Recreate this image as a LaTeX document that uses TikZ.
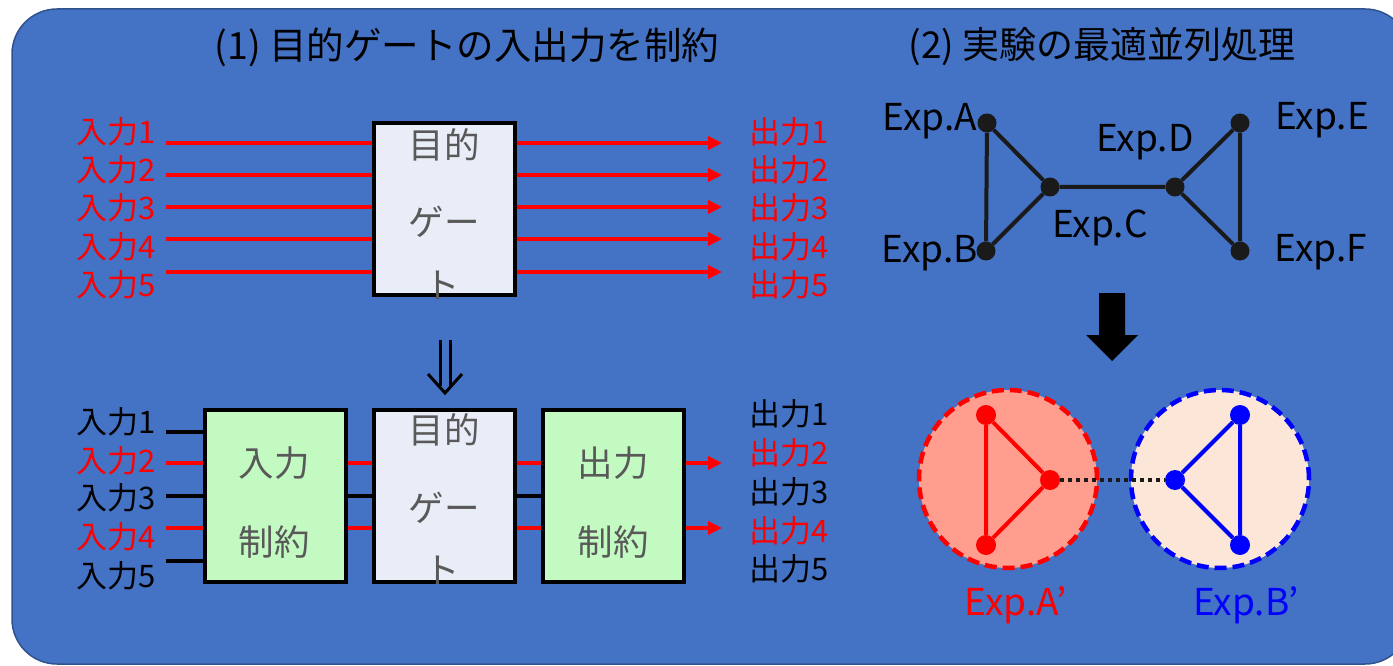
\documentclass[tikz,border=0pt]{standalone}
\usepackage{fontspec}
\setmainfont{Noto Sans CJK JP}
\usetikzlibrary{arrows.meta}
\definecolor{bgblue}{HTML}{4472C4}
\definecolor{bgedge}{HTML}{2F528F}
\definecolor{gatefill}{HTML}{E9EDF7}
\definecolor{greenfill}{HTML}{C2FAC2}
\definecolor{txtgray}{HTML}{595959}
\definecolor{pinkfill}{HTML}{FF9E8E}
\definecolor{peachfill}{HTML}{FBE6D7}
\definecolor{edgeblack}{HTML}{1A1A1A}
\newcommand\setfs[1]{\fontsize{#1}{#1}\selectfont}
\begin{document}
\begin{tikzpicture}[x=1pt,y=-1pt,
  gatebox/.style={draw=black, line width=4pt, fill=gatefill, minimum width=141pt, minimum height=172pt, inner sep=0pt},
  greenbox/.style={gatebox, fill=greenfill},
  boxtext/.style={text=txtgray, font=\setfs{35.5}, inner sep=0pt},
  title/.style={text=black, font=\setfs{37.5}, inner sep=0pt},
  lbl/.style={font=\setfs{31}, inner sep=0pt},
  redlbl/.style={lbl, text=red},
  blklbl/.style={lbl, text=black},
  redwire/.style={red, line width=4pt},
  blkwire/.style={black, line width=4pt},
  redarrow/.style={redwire, -{Triangle[length=14pt,width=13pt]}},
  dot/.style={circle, fill=edgeblack, minimum size=19pt, inner sep=0pt},
  gedge/.style={edgeblack, line width=4pt},
  explbl/.style={font=\setfs{37}, text=black, inner sep=0pt, anchor=base},
  rdot/.style={circle, fill=red, minimum size=20pt, inner sep=0pt},
  bdot/.style={circle, fill=blue, minimum size=20pt, inner sep=0pt},
  group/.style={circle, minimum size=178pt, inner sep=0pt, line width=4.5pt, dash pattern=on 12pt off 6pt},
]
\useasboundingbox (0,0) rectangle (1393,666);
\draw[fill=bgblue, draw=bgedge, line width=1.5pt, rounded corners=45pt] (12,9) rectangle (1410,664);

% titles
\node[title] (t1) at (467,47) {(1) 目的ゲートの入出力を制約};
\node[title, font=\setfs{37}] (t2) at (1102,47) {(2) 実験の最適並列処理};

% ---------- top gate ----------
\node[gatebox] (g1) at (444.5,209) {};
\node[boxtext] (g1a) at (444,145) {目的};
\node[boxtext] (g1b) at (444,222) {ゲー};
\node[boxtext] (g1c) at (442,285) {ト};

\foreach \i/\y/\ly in {1/143/132, 2/175/170, 3/207/208, 4/239/247, 5/272/285} {
  \node[redlbl, anchor=east] (ti\i) at (156,\ly) {入力\i};
  \node[redlbl, anchor=west] (to\i) at (749,\ly) {出力\i};
  \coordinate (tl\i) at (166,\y);
  \coordinate (tr\i) at (722,\y);
  \draw[redwire] (tl\i) -- (tl\i -| g1.west);
  \draw[redarrow] (tl\i -| g1.east) -- (tr\i);
}

% double arrow
\coordinate (da) at (445,340);
\draw[black, line width=3pt] (440,340) -- (440,386) (450,340) -- (450,386);
\draw[black, line width=3pt, line join=miter] (428,374) -- (445,393) -- (462,374);

% ---------- bottom chain ----------
\node[greenbox] (ic) at (275,495.5) {};
\node[gatebox] (g2) at (444.5,495.5) {};
\node[greenbox] (oc) at (613.5,495.5) {};
\node[boxtext] (ica) at (274,463) {入力};
\node[boxtext] (icb) at (274,542) {制約};
\node[boxtext] (g2a) at (444,430) {目的};
\node[boxtext] (g2b) at (444,508) {ゲー};
\node[boxtext] (g2c) at (442,570) {ト};
\node[boxtext] (oca) at (613,463) {出力};
\node[boxtext] (ocb) at (613,542) {制約};

\foreach \i/\y/\ly/\oy/\c in {1/432/422/414/blk, 2/463/461/453/red, 3/496/498/492/blk, 4/528/537/531/red, 5/561/576/569/blk} {
  \node[\c lbl, anchor=east] (bi\i) at (156,\ly) {入力\i};
  \node[\c lbl, anchor=west] (bo\i) at (749,\oy) {出力\i};
  \coordinate (bl\i) at (166,\y);
  \draw[\c wire] (bl\i) -- (bl\i -| ic.west);
}
\foreach \i in {2,4} {
  \draw[redwire] (bl\i -| ic.east) -- (bl\i -| g2.west);
  \draw[redwire] (bl\i -| g2.east) -- (bl\i -| oc.west);
  \coordinate (br\i) at (722,0 |- bl\i);
  \draw[redarrow] (bl\i -| oc.east) -- (br\i);
}
\draw[blkwire] (bl3 -| ic.east) -- (bl3 -| g2.west);
\draw[blkwire] (bl3 -| g2.east) -- (bl3 -| oc.west);

% ---------- graph ----------
\node[dot] (A) at (987,123) {};
\node[dot] (B) at (986,251) {};
\node[dot] (C) at (1050,187) {};
\node[dot] (D) at (1175,187) {};
\node[dot] (E) at (1240,123) {};
\node[dot] (F) at (1240,251) {};
\draw[gedge] (A) -- (B) (A) -- (C) (B) -- (C) (C) -- (D) (D) -- (E) (D) -- (F) (E) -- (F);
\node[explbl] (lA) at (930,131) {Exp.A};
\node[explbl] (lB) at (930,262) {Exp.B};
\node[explbl] (lC) at (1100,237) {Exp.C};
\node[explbl] (lD) at (1145,152) {Exp.D};
\node[explbl] (lE) at (1322,130) {Exp.E};
\node[explbl] (lF) at (1321,261) {Exp.F};

% big arrow
\fill[black] (1099,293) -- (1125,293) -- (1125,335) -- (1138,335) -- (1112,361) -- (1086,335) -- (1099,335) -- cycle;

% groups
\node[group, fill=pinkfill, draw=red] (gA) at (1008,479) {};
\node[group, fill=peachfill, draw=blue] (gB) at (1220,479) {};
\node[rdot] (a1) at (986,415) {};
\node[rdot] (a2) at (986,545) {};
\node[rdot] (a3) at (1050,480) {};
\node[bdot] (b1) at (1240,415) {};
\node[bdot] (b2) at (1240,545) {};
\node[bdot] (b3) at (1175,480) {};
\draw[red, line width=4pt] (a1) -- (a2) (a1) -- (a3) (a2) -- (a3);
\draw[blue, line width=4pt] (b1) -- (b2) (b1) -- (b3) (b2) -- (b3);
\draw[edgeblack, line width=4pt, dash pattern=on 4pt off 4pt] (a3) -- (b3);
\node[explbl, text=red] (lAp) at (1016,615) {Exp.A’};
\node[explbl, text=blue] (lBp) at (1246,615) {Exp.B’};
\end{tikzpicture}
\end{document}
